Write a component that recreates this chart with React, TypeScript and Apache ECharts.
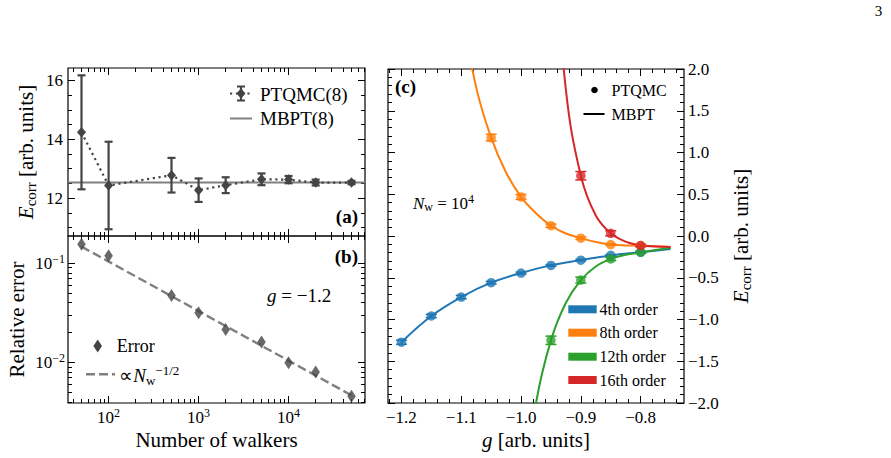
import React, { useEffect, useRef } from 'react';
import * as echarts from 'echarts';

// ---- panels (a) and (b): convergence with the number of walkers ----
const walkers = [50, 100, 500, 1000, 2000, 5000, 10000, 20000, 50000];
const ecorrPtqmc = [14.24, 12.43, 12.78, 12.27, 12.44, 12.64, 12.63, 12.53, 12.53];
const ecorrErr = [1.94, 1.49, 0.59, 0.4, 0.27, 0.2, 0.124, 0.1, 0.057];
const mbpt8 = 12.53;
const relError = [0.155, 0.119, 0.0472, 0.0317, 0.0215, 0.016, 0.0099, 0.008, 0.00455];
const fitWalkers = [50, 50000];
const fitError = [0.147, 0.00465];

const walkerRange = [35.4, 70630];
const relErrorRange = [0.00389, 0.188];
const ecorrRange = [10.71, 16.43];
const walkerTicks = [100, 1000, 10000];
const relErrorTicks = [0.01, 0.1];
const ecorrTicks = [12, 14, 16];

// ---- panel (c): PTQMC points and MBPT curves versus coupling g ----
const gRange = [-1.2225, -0.7275];
const gTicks = [-1.2, -1.1, -1.0, -0.9, -0.8];
const eRange = [-2, 2];

const gQmc4 = [-1.2, -1.15, -1.1, -1.05, -1.0, -0.95, -0.9, -0.85, -0.8];
const qmc4 = [-1.272, -0.958, -0.731, -0.559, -0.444, -0.352, -0.289, -0.231, -0.194];
const qmc4Err = [0.025, 0.02, 0.02, 0.015, 0.012, 0.01, 0.01, 0.008, 0.008];
const gQmc8 = [-1.05, -1.0, -0.95, -0.9, -0.85, -0.8];
const qmc8 = [1.178, 0.468, 0.123, -0.026, -0.102, -0.115];
const qmc8Err = [0.04, 0.03, 0.02, 0.015, 0.01, 0.01];
const gQmc12 = [-0.95, -0.9, -0.85, -0.8];
const qmc12 = [-1.249, -0.528, -0.274, -0.196];
const qmc12Err = [0.05, 0.035, 0.02, 0.012];
const gQmc16 = [-0.9, -0.85, -0.8];
const qmc16 = [0.722, 0.032, -0.114];
const qmc16Err = [0.05, 0.03, 0.015];

const gMbpt4 = [-1.2, -1.15, -1.1, -1.05, -1.0, -0.95, -0.9, -0.85, -0.8, -0.75];
const mbpt4 = [-1.272, -0.958, -0.731, -0.559, -0.444, -0.352, -0.289, -0.233, -0.194, -0.155];
const gMbpt8 = [-1.1, -1.075, -1.05, -1.025, -1.0, -0.975, -0.95, -0.925, -0.9, -0.875, -0.85, -0.825, -0.8, -0.775, -0.75];
const mbpt8Curve = [2.75, 1.78, 1.178, 0.76, 0.468, 0.272, 0.123, 0.03, -0.026, -0.072, -0.102, -0.113, -0.116, -0.123, -0.133];
const gMbpt12 = [-1.0, -0.975, -0.95, -0.925, -0.9, -0.875, -0.85, -0.825, -0.8, -0.775, -0.75];
const mbpt12 = [-3.3, -2.0, -1.25, -0.8, -0.528, -0.365, -0.274, -0.225, -0.196, -0.168, -0.145];
const gMbpt16 = [-0.95, -0.925, -0.9, -0.875, -0.85, -0.825, -0.8, -0.775, -0.75];
const mbpt16 = [3.98, 1.75, 0.722, 0.245, 0.032, -0.068, -0.114, -0.126, -0.131];

const orderNames = ['4th order', '8th order', '12th order', '16th order'];
const orderColors = ['#1f77b4', '#ff7f0e', '#2ca02c', '#d62728'];

const SERIF = 'Liberation Serif';
const INK = '#000000';
const DARK = '#444444';
const GRAY = '#808080';
const TICK_FONT = 17;

const lg = (v: number) => Math.log10(v);
const minus = (s: string) => s.replace('-', '\u2212');
const zip = (xs: number[], ys: number[]) => xs.map((x, i) => [x, ys[i]]);

function logMinor(lo: number, hi: number) {
  const out: number[] = [];
  for (let d = Math.floor(lo) - 1; d <= Math.ceil(hi); d++) {
    for (let k = 2; k <= 9; k++) {
      const v = d + Math.log10(k);
      if (v > lo && v < hi) out.push(v);
    }
  }
  return out;
}

function linMinor(lo: number, hi: number, step: number, majorStep: number) {
  const out: number[] = [];
  const start = Math.ceil(lo / step - 1e-9);
  const end = Math.floor(hi / step + 1e-9);
  for (let i = start; i <= end; i++) {
    const v = +(i * step).toFixed(6);
    const r = v / majorStep;
    if (Math.abs(r - Math.round(r)) < 1e-6) continue;
    out.push(v);
  }
  return out;
}

const supRich = {
  sup: { fontFamily: SERIF, fontSize: 12, color: INK, verticalAlign: 'top', lineHeight: 8 },
};

type LabelSpec = { values: number[]; formatter: (v: number) => string; margin: number; rich?: any };

function tickAxis(grid: number, position: string, range: number[], values: number[], len: number, label?: LabelSpec) {
  const axisLabel: any = label
    ? {
        show: true,
        customValues: label.values,
        formatter: label.formatter,
        margin: label.margin,
        color: INK,
        fontFamily: SERIF,
        fontSize: TICK_FONT,
        lineHeight: 21,
      }
    : { show: false };
  if (label && label.rich) axisLabel.rich = label.rich;
  return {
    type: 'value',
    gridIndex: grid,
    position,
    offset: 0,
    min: range[0],
    max: range[1],
    axisLine: { show: false, onZero: false },
    axisTick: { show: true, inside: true, length: len, lineStyle: { color: INK, width: 1 }, customValues: values },
    axisLabel,
    splitLine: { show: false },
    minorTick: { show: false },
    minorSplitLine: { show: false },
  };
}

function errorBars(xi: number, yi: number, data: number[][], color: string, lw: number, cap: number, z: number) {
  return {
    type: 'custom',
    xAxisIndex: xi,
    yAxisIndex: yi,
    z,
    silent: true,
    encode: { x: 0, y: 1 },
    data,
    renderItem: (_params: any, api: any) => {
      const x = api.value(0);
      const y = api.value(1);
      const e = api.value(2);
      const hi = api.coord([x, y + e]);
      const lo = api.coord([x, y - e]);
      const style = { stroke: color, lineWidth: lw, fill: 'none' };
      return {
        type: 'group',
        children: [
          { type: 'line', shape: { x1: hi[0], y1: hi[1], x2: lo[0], y2: lo[1] }, style },
          { type: 'line', shape: { x1: hi[0] - cap, y1: hi[1], x2: hi[0] + cap, y2: hi[1] }, style },
          { type: 'line', shape: { x1: lo[0] - cap, y1: lo[1], x2: lo[0] + cap, y2: lo[1] }, style },
        ],
      };
    },
  };
}

function richFor(size: number) {
  const small = Math.round(size * 0.7);
  return {
    it: { fontFamily: SERIF, fontSize: size, fontStyle: 'italic', color: INK, lineHeight: Math.round(size * 1.2) },
    sub: { fontFamily: SERIF, fontSize: small, color: INK, verticalAlign: 'bottom', lineHeight: Math.round(size * 0.6) },
    sup: { fontFamily: SERIF, fontSize: small, color: INK, verticalAlign: 'top', lineHeight: Math.round(size * 0.42) },
  };
}

function label(x: number, y: number, text: string, size: number, extra: any = {}) {
  const style: any = {
    text,
    fill: INK,
    fontFamily: SERIF,
    fontSize: size,
    align: extra.align || 'left',
    verticalAlign: 'middle',
  };
  if (extra.bold) style.fontWeight = 'bold';
  if (text.indexOf('{') >= 0) {
    style.lineHeight = Math.round(size * 1.2);
    style.rich = richFor(size);
  }
  return {
    type: 'text',
    x,
    y,
    silent: true,
    z: 100,
    rotation: extra.rotation || 0,
    style,
  };
}

function buildOption() {
  const LX = walkerRange.map(lg);
  const LY = relErrorRange.map(lg);
  const lxMinor = logMinor(LX[0], LX[1]);
  const lyMinor = logMinor(LY[0], LY[1]);
  const lxMajor = walkerTicks.map(lg);
  const lyMajor = relErrorTicks.map(lg);
  const eMinor = linMinor(ecorrRange[0], ecorrRange[1], 0.5, 2);
  const gMinor = linMinor(gRange[0], gRange[1], 0.02, 0.1);

  const MAJ = 7;
  const MIN = 4;

  const xAxis = [
    // (a)
    tickAxis(0, 'bottom', LX, lxMajor, MAJ),
    tickAxis(0, 'bottom', LX, lxMinor, MIN),
    tickAxis(0, 'top', LX, lxMajor, MAJ),
    tickAxis(0, 'top', LX, lxMinor, MIN),
    // (b)
    tickAxis(1, 'bottom', LX, lxMajor, MAJ, {
      values: lxMajor,
      formatter: (v: number) => `10{sup|${Math.round(v)}}`,
      margin: 4,
      rich: supRich,
    }),
    tickAxis(1, 'bottom', LX, lxMinor, MIN),
    tickAxis(1, 'top', LX, lxMajor, MAJ),
    tickAxis(1, 'top', LX, lxMinor, MIN),
    // (c)
    tickAxis(2, 'bottom', gRange, gTicks, MAJ, {
      values: gTicks,
      formatter: (v: number) => minus(v.toFixed(1)),
      margin: 4,
    }),
    tickAxis(2, 'bottom', gRange, gMinor, MIN),
    tickAxis(2, 'top', gRange, gTicks, MAJ),
    tickAxis(2, 'top', gRange, gMinor, MIN),
  ];

  const eAxisBase = (position: string, withLabels: boolean) => ({
    type: 'value',
    gridIndex: 2,
    position,
    offset: 0,
    min: eRange[0],
    max: eRange[1],
    interval: 0.5,
    axisLine: { show: false, onZero: false },
    axisTick: { show: true, inside: true, length: MAJ, lineStyle: { color: INK, width: 1 } },
    minorTick: { show: true, splitNumber: 5, length: MIN, lineStyle: { color: INK, width: 1 } },
    axisLabel: withLabels
      ? {
          show: true,
          margin: 4,
          color: INK,
          fontFamily: SERIF,
          fontSize: TICK_FONT,
          formatter: (v: number) => minus(v.toFixed(1)),
        }
      : { show: false },
    splitLine: { show: false },
    minorSplitLine: { show: false },
  });

  const yAxis = [
    // (a)
    tickAxis(0, 'left', ecorrRange, ecorrTicks, MAJ, {
      values: ecorrTicks,
      formatter: (v: number) => String(v),
      margin: 5,
    }),
    tickAxis(0, 'left', ecorrRange, eMinor, MIN),
    tickAxis(0, 'right', ecorrRange, ecorrTicks, MAJ),
    tickAxis(0, 'right', ecorrRange, eMinor, MIN),
    // (b)
    tickAxis(1, 'left', LY, lyMajor, MAJ, {
      values: lyMajor,
      formatter: (v: number) => `10{sup|${minus(String(Math.round(v)))}}`,
      margin: 3,
      rich: supRich,
    }),
    tickAxis(1, 'left', LY, lyMinor, MIN),
    tickAxis(1, 'right', LY, lyMajor, MAJ),
    tickAxis(1, 'right', LY, lyMinor, MIN),
    // (c)
    eAxisBase('right', true),
    eAxisBase('left', false),
  ];

  const series: any[] = [];

  // (a) MBPT(8) reference level across the whole axis
  series.push({
    type: 'line',
    name: 'MBPT(8)',
    xAxisIndex: 0,
    yAxisIndex: 0,
    z: 1,
    data: [
      [LX[0], mbpt8],
      [LX[1], mbpt8],
    ],
    showSymbol: false,
    lineStyle: { color: GRAY, width: 2 },
    silent: true,
  });
  series.push(
    errorBars(
      0,
      0,
      walkers.map((w, i) => [lg(w), ecorrPtqmc[i], ecorrErr[i]]),
      DARK,
      2.2,
      4,
      2
    )
  );
  series.push({
    type: 'line',
    name: 'PTQMC(8)',
    xAxisIndex: 0,
    yAxisIndex: 0,
    z: 3,
    data: walkers.map((w, i) => [lg(w), ecorrPtqmc[i]]),
    symbol: 'diamond',
    symbolSize: [9, 10.5],
    showSymbol: true,
    itemStyle: { color: DARK },
    lineStyle: { color: DARK, width: 2.2, type: [2.2, 3.6] },
    silent: true,
  });

  // (b) relative error and N^-1/2 guide
  series.push({
    type: 'line',
    name: 'fit',
    xAxisIndex: 4,
    yAxisIndex: 4,
    z: 2,
    data: fitWalkers.map((w, i) => [lg(w), lg(fitError[i])]),
    showSymbol: false,
    lineStyle: { color: GRAY, width: 2.4, type: [9, 4] },
    silent: true,
  });
  series.push({
    type: 'scatter',
    name: 'Error',
    xAxisIndex: 4,
    yAxisIndex: 4,
    z: 3,
    data: walkers.map((w, i) => [lg(w), lg(relError[i])]),
    symbol: 'diamond',
    symbolSize: [8.5, 13],
    itemStyle: { color: DARK },
    silent: true,
  });

  // (c) orders
  const curves = [
    [gMbpt4, mbpt4],
    [gMbpt8, mbpt8Curve],
    [gMbpt12, mbpt12],
    [gMbpt16, mbpt16],
  ];
  const points = [
    [gQmc4, qmc4, qmc4Err],
    [gQmc8, qmc8, qmc8Err],
    [gQmc12, qmc12, qmc12Err],
    [gQmc16, qmc16, qmc16Err],
  ];
  orderNames.forEach((name, k) => {
    const color = orderColors[k];
    series.push({
      type: 'line',
      name,
      xAxisIndex: 8,
      yAxisIndex: 8,
      z: 2 + k * 0.1,
      data: zip(curves[k][0], curves[k][1]),
      smooth: 0.4,
      showSymbol: false,
      clip: true,
      lineStyle: { color, width: 2 },
      silent: true,
    });
  });
  orderNames.forEach((name, k) => {
    const color = orderColors[k];
    const [gs, es, errs] = points[k];
    series.push(errorBars(8, 8, gs.map((g, i) => [g, es[i], errs[i]]), color, 1.5, 5.5, 3));
    series.push({
      type: 'scatter',
      name: `PTQMC ${name}`,
      xAxisIndex: 8,
      yAxisIndex: 8,
      z: 4,
      data: zip(gs, es),
      symbol: 'circle',
      symbolSize: 9.5,
      itemStyle: { color },
      silent: true,
    });
  });

  // legends, panel tags, axis titles
  const graphic: any[] = [];
  // (a) legend
  graphic.push({
    type: 'line',
    silent: true,
    shape: { x1: 230, y1: 93.5, x2: 252, y2: 93.5 },
    style: { stroke: DARK, lineWidth: 2.2, lineDash: [2.2, 3.6] },
  });
  graphic.push({ type: 'line', silent: true, shape: { x1: 241, y1: 86.5, x2: 241, y2: 100.5 }, style: { stroke: DARK, lineWidth: 2.2 } });
  graphic.push({ type: 'line', silent: true, shape: { x1: 237, y1: 86.5, x2: 245, y2: 86.5 }, style: { stroke: DARK, lineWidth: 2 } });
  graphic.push({ type: 'line', silent: true, shape: { x1: 237, y1: 100.5, x2: 245, y2: 100.5 }, style: { stroke: DARK, lineWidth: 2 } });
  graphic.push({
    type: 'polygon',
    silent: true,
    shape: { points: [[241, 88.2], [245.5, 93.5], [241, 98.8], [236.5, 93.5]] },
    style: { fill: DARK },
  });
  graphic.push(label(260, 94, 'PTQMC(8)', 19));
  graphic.push({ type: 'line', silent: true, shape: { x1: 230, y1: 118.5, x2: 252, y2: 118.5 }, style: { stroke: GRAY, lineWidth: 2 } });
  graphic.push(label(260, 118.5, 'MBPT(8)', 19));
  graphic.push(label(358, 216, '(a)', 19, { bold: true, align: 'right' }));

  // (b) legend and annotation
  graphic.push(label(358, 256.5, '(b)', 19, { bold: true, align: 'right' }));
  graphic.push(label(267, 295.5, '{it|g} = \u22121.2', 19));
  graphic.push({
    type: 'polygon',
    silent: true,
    shape: { points: [[97.7, 339.5], [102, 346], [97.7, 352.5], [93.4, 346]] },
    style: { fill: DARK },
  });
  graphic.push(label(116.7, 346, 'Error', 18));
  graphic.push({
    type: 'line',
    silent: true,
    shape: { x1: 86, y1: 374.3, x2: 115, y2: 374.3 },
    style: { stroke: GRAY, lineWidth: 2.4, lineDash: [9, 4] },
  });
  graphic.push(label(119.3, 375, '\u221d{it|N}{sub|w}{sup|\u22121/2}', 19));

  // (c) legends and annotation
  graphic.push(label(395, 86.5, '(c)', 19, { bold: true }));
  graphic.push(label(413, 203, '{it|N}{sub|w} = 10{sup|4}', 17));
  graphic.push({ type: 'circle', silent: true, shape: { cx: 594.5, cy: 90, r: 3.3 }, style: { fill: INK } });
  graphic.push(label(611.5, 90, 'PTQMC', 16));
  graphic.push({ type: 'line', silent: true, shape: { x1: 583.5, y1: 114, x2: 604.5, y2: 114 }, style: { stroke: INK, lineWidth: 2 } });
  graphic.push(label(611.5, 114.3, 'MBPT', 16));
  const rowY = [309.3, 332.7, 356.7, 380];
  orderNames.forEach((name, k) => {
    graphic.push({
      type: 'rect',
      silent: true,
      shape: { x: 568.3, y: rowY[k] - 4, width: 28.4, height: 8 },
      style: { fill: orderColors[k] },
    });
    graphic.push(label(599.5, rowY[k], name, 16));
  });

  // axis titles
  graphic.push(label(26, 152, '{it|E}{sub|corr} [arb. units]', 21, { align: 'center', rotation: Math.PI / 2 }));
  graphic.push(label(16.5, 319.5, 'Relative error', 21, { align: 'center', rotation: Math.PI / 2 }));
  graphic.push(label(216.5, 440, 'Number of walkers', 21, { align: 'center' }));
  graphic.push(label(536, 440, '{it|g} [arb. units]', 21, { align: 'center' }));
  graphic.push(label(740.5, 236, '{it|E}{sub|corr} [arb. units]', 21, { align: 'center', rotation: Math.PI / 2 }));
  graphic.push(label(878.5, 10.5, '3', 15, { align: 'center' }));

  const gridBase = {
    show: true,
    borderColor: INK,
    borderWidth: 1.2,
    backgroundColor: 'transparent',
    containLabel: false,
    outerBoundsMode: 'none',
  };

  return {
    animation: false,
    backgroundColor: '#ffffff',
    grid: [
      { ...gridBase, left: 68, top: 68, width: 297, height: 168 },
      { ...gridBase, left: 68, top: 236, width: 297, height: 167 },
      { ...gridBase, left: 388, top: 69, width: 296, height: 334 },
    ],
    xAxis,
    yAxis,
    series,
    graphic,
  };
}

export default function App() {
  const ref = useRef<HTMLDivElement>(null);
  useEffect(() => {
    if (!ref.current) return;
    const chart = echarts.init(ref.current, null, { renderer: 'svg' });
    chart.setOption(buildOption() as any);
    return () => chart.dispose();
  }, []);
  return (
    <div
      ref={ref}
      style={{ position: 'fixed', left: 0, top: 0, width: 891, height: 458, background: '#ffffff' }}
    />
  );
}
